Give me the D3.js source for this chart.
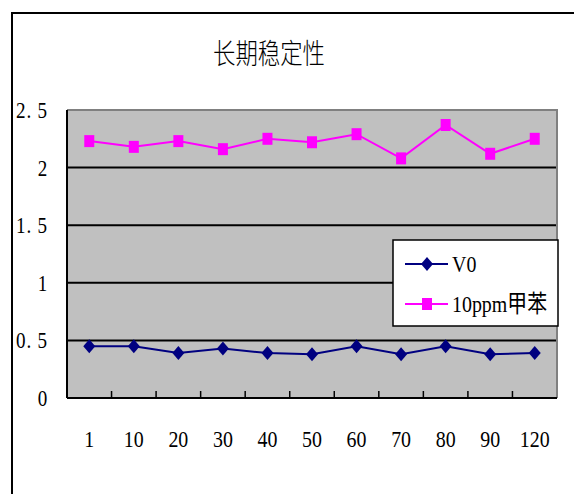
<!DOCTYPE html>
<html>
<head>
<meta charset="utf-8">
<script src="https://cdn.jsdelivr.net/npm/d3@7"></script>
<style>
body { margin: 0; background: #fff; }
text { font-family: "Liberation Serif", "DejaVu Serif", "Noto Sans CJK SC", serif; fill: #000; }
</style>
</head>
<body>
<div id="chart"></div>
<script>
/* long-term stability chart */

var categories = ["1", "10", "20", "30", "40", "50", "60", "70", "80", "90", "120"];
var v0Values = [0.45, 0.45, 0.39, 0.43, 0.39, 0.38, 0.45, 0.38, 0.45, 0.38, 0.39];
var tolueneValues = [2.23, 2.18, 2.23, 2.16, 2.25, 2.22, 2.29, 2.08, 2.37, 2.12, 2.25];
var yTicks = [0, 0.5, 1, 1.5, 2, 2.5];
var yTickLabels = ["0", "0.5", "1", "1.5", "2", "2.5"];
var seriesNames = ["V0", "10ppm甲苯"];

var width = 574, height = 494;
var plot = {left: 67, right: 557, top: 110, bottom: 398};

var svg = d3.select("#chart").append("svg")
	.attr("width", width)
	.attr("height", height);

// outer chart border (runs off the right and bottom)
svg.append("rect")
	.attr("x", 12).attr("y", 13)
	.attr("width", 600).attr("height", 520)
	.attr("fill", "#fff")
	.attr("stroke", "#000")
	.attr("stroke-width", 2);

// title
svg.append("text")
	.attr("transform", "translate(269,64) scale(0.8,1)")
	.attr("text-anchor", "middle")
	.style("font-size", "28px")
	.style("font-weight", "300")
	.text("长期稳定性");

// scales
var x = d3.scaleBand()
	.domain(categories)
	.range([plot.left, plot.right]);

var y = d3.scaleLinear()
	.domain([0, 2.5])
	.range([plot.bottom, plot.top]);

// plot background
svg.append("rect")
	.attr("x", plot.left).attr("y", plot.top)
	.attr("width", plot.right - plot.left)
	.attr("height", plot.bottom - plot.top)
	.attr("fill", "#c0c0c0");

// gridlines
svg.append("g")
	.selectAll("line")
	.data(yTicks.filter(d => d > 0 && d < 2.5))
	.enter().append("line")
	.attr("x1", plot.left).attr("x2", plot.right)
	.attr("y1", d => y(d)).attr("y2", d => y(d))
	.attr("stroke", "#000")
	.attr("stroke-width", 2);

// grey top and right border
svg.append("path")
	.attr("d", `M${plot.left},${plot.top}H${plot.right}V${plot.bottom}`)
	.attr("fill", "none")
	.attr("stroke", "#808080")
	.attr("stroke-width", 2);

// x axis with inward ticks between categories
var xAxis = svg.append("g");
xAxis.append("line")
	.attr("x1", plot.left).attr("x2", plot.right)
	.attr("y1", plot.bottom).attr("y2", plot.bottom)
	.attr("stroke", "#000").attr("stroke-width", 2);
xAxis.selectAll(".tick")
	.data(categories.slice(1))
	.enter().append("line")
	.attr("x1", d => x(d)).attr("x2", d => x(d))
	.attr("y1", plot.bottom).attr("y2", plot.bottom - 7)
	.attr("stroke", "#000").attr("stroke-width", 1.5);
xAxis.selectAll(".lbl")
	.data(categories)
	.enter().append("text")
	.attr("transform", d => `translate(${x(d) + x.bandwidth() / 2},447) scale(0.83,1)`)
	.attr("text-anchor", "middle")
	.style("font-size", "24px")
	.text(d => d);

// y axis
var yAxis = svg.append("g");
yAxis.append("line")
	.attr("x1", plot.left).attr("x2", plot.left)
	.attr("y1", plot.top).attr("y2", plot.bottom)
	.attr("stroke", "#000").attr("stroke-width", 2);
yAxis.selectAll("text")
	.data(yTicks)
	.enter().append("text")
	.attr("transform", d => `translate(48,${y(d) + 8}) scale(0.83,1)`)
	.attr("text-anchor", "end")
	.style("font-size", "23px")
	.style("letter-spacing", "1px")
	.text((d, i) => yTickLabels[i].replace(".", ". "));

// series
var cx = d => x(d) + x.bandwidth() / 2;
var diamond = "M0,-7L6,0L0,7L-6,0Z";
var square = "M-5,-6H5V6H-5Z";

var series = [
	{name: seriesNames[0], values: v0Values, color: "#000080", shape: diamond},
	{name: seriesNames[1], values: tolueneValues, color: "#ff00ff", shape: square}
];

var line = d3.line()
	.x((d, i) => cx(categories[i]))
	.y(d => y(d));

series.forEach(s => {
	svg.append("path")
		.attr("d", line(s.values))
		.attr("fill", "none")
		.attr("stroke", s.color)
		.attr("stroke-width", 2);
	svg.append("g").selectAll("path")
		.data(s.values)
		.enter().append("path")
		.attr("d", s.shape)
		.attr("transform", (d, i) => `translate(${cx(categories[i])},${y(d)})`)
		.attr("fill", s.color);
});

// legend
var legend = svg.append("g");
legend.append("rect")
	.attr("x", 393).attr("y", 240)
	.attr("width", 165).attr("height", 86)
	.attr("fill", "#fff")
	.attr("stroke", "#000")
	.attr("stroke-width", 1.5);

series.forEach((s, i) => {
	var ly = 264 + i * 40;
	legend.append("line")
		.attr("x1", 405).attr("x2", 448)
		.attr("y1", ly).attr("y2", ly)
		.attr("stroke", s.color).attr("stroke-width", 2);
	legend.append("path")
		.attr("d", s.shape)
		.attr("transform", `translate(427,${ly})`)
		.attr("fill", s.color);
	legend.append("text")
		.attr("transform", `translate(452,${ly + 8}) scale(0.83,1)`)
		.style("font-size", "24px")
		.text(s.name);
});
</script>
</body>
</html>
